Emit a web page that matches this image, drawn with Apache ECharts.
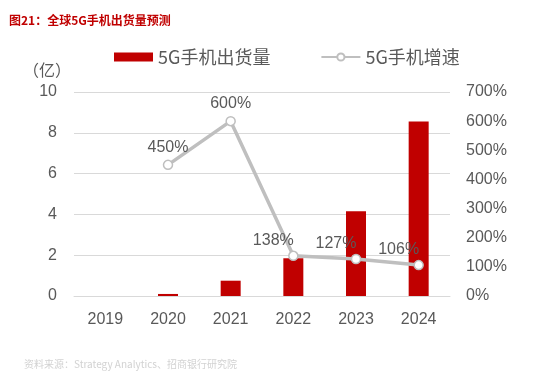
<!DOCTYPE html>
<html>
<head>
<meta charset="utf-8">
<script src="https://cdn.jsdelivr.net/npm/echarts@6/dist/echarts.min.js"></script>
<style>
html,body{margin:0;padding:0;background:#fff;}
#main{width:550px;height:377px;}
</style>
</head>
<body>
<div id="main"></div>
<script>
// 年份与数据
var years = ['2019', '2020', '2021', '2022', '2023', '2024'];
var shipments = [0, 0.1, 0.75, 1.85, 4.15, 8.55];   // 亿
var growth = [null, 450, 600, 138, 127, 106];        // %
var leftTicks = [0, 10, 2];
var rightTicks = [0, 700, 100];

var myChart = echarts.init(document.getElementById('main'));
var fontFam = '"Liberation Sans", Arial, "Noto Sans CJK SC", sans-serif';

var lineData = growth.map(function (v, i) {
    var d = {value: v};
    if (i >= 3) {
        d.label = {offset: [-20, 2]};
    }
    return d;
});

option = {
    backgroundColor: '#fff',
    animation: false,
    title: [
        {
            text: '图21：全球5G手机出货量预测',
            left: 4, top: 9,
            textStyle: {color: '#c00000', fontSize: 12, fontWeight: 'bold', fontFamily: '"Noto Sans CJK SC", sans-serif'}
        },
        {
            text: '资料来源：Strategy Analytics、招商银行研究院',
            left: 19, top: 354,
            textStyle: {color: '#d2d2d2', fontSize: 10, fontWeight: 'normal', fontFamily: '"Noto Sans CJK SC", sans-serif'}
        },
        {
            text: '（亿）',
            left: 18, top: 57,
            textStyle: {color: '#595959', fontSize: 16, fontWeight: 'normal', fontFamily: '"Noto Sans CJK SC", sans-serif'}
        }
    ],
    legend: {
        left: 109, top: 43,
        itemGap: 50,
        itemWidth: 39, itemHeight: 9,
        textStyle: {color: '#595959', fontSize: 18, fontFamily: '"Noto Sans CJK SC", sans-serif'},
        data: [
            {name: '5G手机出货量', icon: 'rect'},
            {name: '5G手机增速'}
        ]
    },
    grid: {left: 74, right: 100, top: 92, bottom: 81},
    xAxis: {
        type: 'category',
        data: years,
        axisLine: {lineStyle: {color: '#d9d9d9'}},
        axisTick: {show: false},
        axisLabel: {color: '#595959', fontSize: 16, margin: 16, fontFamily: fontFam}
    },
    yAxis: [
        {
            type: 'value',
            min: leftTicks[0], max: leftTicks[1], interval: leftTicks[2],
            axisLine: {show: false},
            axisTick: {show: false},
            splitLine: {lineStyle: {color: '#d9d9d9', width: 1}},
            axisLabel: {color: '#595959', fontSize: 16, margin: 17, fontFamily: fontFam}
        },
        {
            type: 'value',
            min: rightTicks[0], max: rightTicks[1], interval: rightTicks[2],
            axisLine: {show: false},
            axisTick: {show: false},
            splitLine: {show: false},
            axisLabel: {color: '#595959', fontSize: 16, margin: 16, fontFamily: fontFam, formatter: '{value}%'}
        }
    ],
    series: [
        {
            name: '5G手机出货量',
            type: 'bar',
            data: shipments,
            barWidth: 20,
            itemStyle: {color: '#c00000'}
        },
        {
            name: '5G手机增速',
            type: 'line',
            yAxisIndex: 1,
            data: lineData,
            symbol: 'circle',
            symbolSize: 9,
            connectNulls: false,
            lineStyle: {color: '#bfbfbf', width: 3.5},
            itemStyle: {color: '#fff', borderColor: '#bfbfbf', borderWidth: 1.5},
            label: {
                show: true,
                position: 'top',
                distance: 4,
                color: '#595959',
                fontSize: 16,
                fontFamily: fontFam,
                formatter: '{c}%'
            }
        }
    ]
};

myChart.setOption(option);
</script>
</body>
</html>
